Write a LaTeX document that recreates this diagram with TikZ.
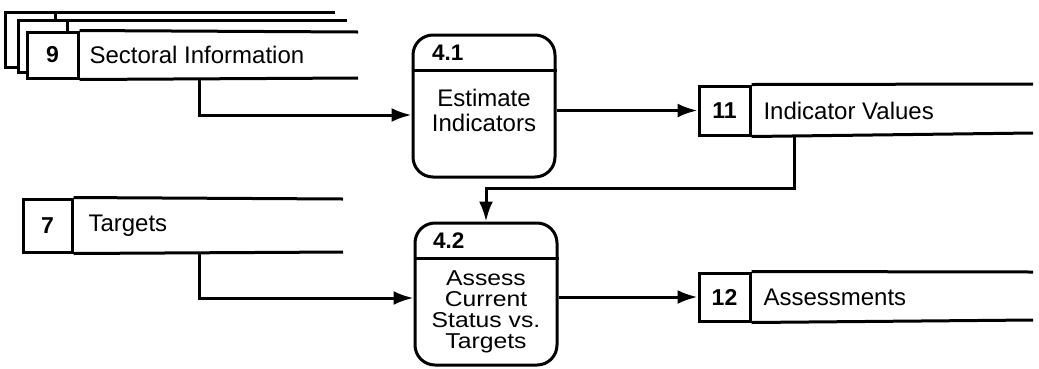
\documentclass[tikz,border=0pt]{standalone}
\usepackage{fontspec}
\setmainfont{Liberation Sans}
\newfontfamily\widesans[FakeStretch=1.15]{Liberation Sans}
\usetikzlibrary{arrows.meta}
\begin{document}
\begin{tikzpicture}[x=1pt,y=-1pt,line width=3pt,line join=miter,
  numcell/.style={draw,rectangle,minimum width=51pt,inner sep=0pt,font=\fontsize{23}{25}\selectfont\bfseries},
  storetext/.style={anchor=west,inner sep=0pt,font=\fontsize{24}{26}\selectfont},
  procbox/.style={draw,rectangle,rounded corners=20pt,minimum width=142pt,minimum height=142pt,inner sep=0pt},
  procid/.style={anchor=west,inner sep=0pt,font=\fontsize{22.5}{24}\selectfont\bfseries},
  proctext/.style={align=center,inner sep=0pt,font=\fontsize{24}{25}\selectfont},
  flow/.style={-{Latex[length=20pt,width=14pt]}}]
\useasboundingbox (0,0) rectangle (1039,368);

% ---------- Store 9 (stacked) ----------
% back layer 1
\draw (335,12) -- (5,12) -- (5,67) -- (18,67);
\draw (55,12) -- (55,20);
% back layer 2
\draw (347,20) -- (18,20) -- (18,72) -- (27,72);
\draw (67,20) -- (67,32);
% front
\node[numcell,minimum height=46pt] (s9n) at (52.5,55) {9};
\node[storetext] (s9) at (88,55) {Sectoral Information};
\draw (s9n.north east) -- (358,32);
\draw (s9n.south east) -- (358,78);

% ---------- Store 7 ----------
\node[numcell,minimum height=53pt,minimum width=49pt] (s7n) at (47.5,225.5) {7};
\node[storetext] (s7) at (87,225.5) {Targets};
\draw (s7n.north east) -- (343,199);
\draw (s7n.south east) -- (343,252);

% ---------- Store 11 ----------
\node[numcell,minimum height=49pt] (s11n) at (724.5,110.5) {11};
\node[storetext] (s11) at (762,110.5) {Indicator Values};
\draw (s11n.north east) -- (1033,84);
\draw (s11n.south east) -- (1033,133);

% ---------- Store 12 ----------
\node[numcell,minimum height=48pt] (s12n) at (724.5,297) {12};
\node[storetext] (s12) at (762,297) {Assessments};
\draw (s12n.north east) -- (1033,272);
\draw (s12n.south east) -- (1033,320);

% ---------- Process 4.1 ----------
\node[procbox] (p41) at (484,106) {};
\draw ([yshift=-37pt]p41.north west) -- ([yshift=-37pt]p41.north east);
\node[procid] (p41id) at ([xshift=19pt,yshift=-19pt]p41.north west) {4.1};
\node[proctext] (p41t) at (484,110) {Estimate\\Indicators};

% ---------- Process 4.2 ----------
\node[procbox] (p42) at (486,294) {};
\draw ([yshift=-37pt]p42.north west) -- ([yshift=-37pt]p42.north east);
\node[procid] (p42id) at ([xshift=18pt,yshift=-19pt]p42.north west) {4.2};
\node[proctext,font=\widesans\fontsize{21.5}{21}\selectfont] (p42t) at (486,312) {Assess\\Current\\Status vs.\\Targets};

% ---------- Flows ----------
\draw[flow] ([xshift=120pt]s9n.south east) |- ([yshift=-9pt]p41.west);
\draw[flow] (p41.east |- s11n.west) -- (s11n.west);
\draw[flow] ([xshift=43pt]s11n.south east) -- ++(0,52) -| (p42.north);
\draw[flow] ([xshift=126pt]s7n.south east) |- ([yshift=-4pt]p42.west);
\draw[flow] (p42.east |- s12n.west) -- (s12n.west);
\end{tikzpicture}
\end{document}
